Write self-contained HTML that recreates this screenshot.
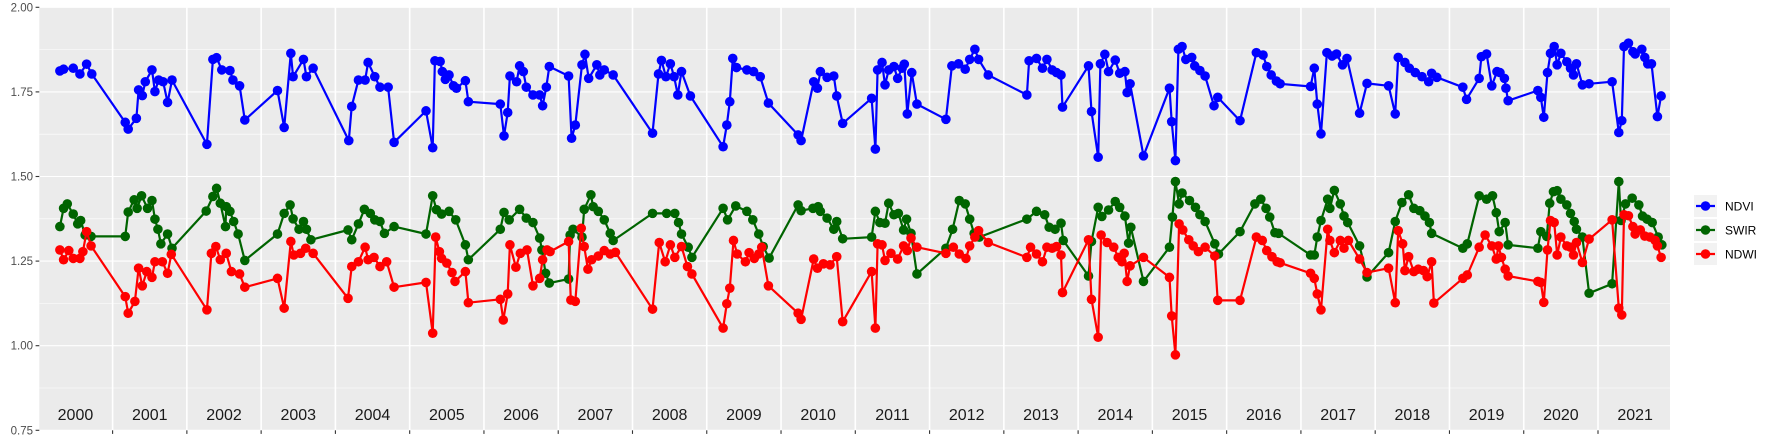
<!DOCTYPE html>
<html><head><meta charset="utf-8">
<style>
html,body{margin:0;padding:0;background:#fff;}
svg{display:block;font-family:"Liberation Sans",sans-serif;}
</style></head>
<body>
<svg id="chart" width="1773" height="442" viewBox="0 0 1773 442" xmlns="http://www.w3.org/2000/svg">
<rect x="39.3" y="7.3" width="1630.7" height="423" fill="#EBEBEB"/>
<g id="grid"></g>
<g id="yaxis"></g>
<g id="xaxis"></g>
<g id="years"></g>
<g id="series"></g>
<g id="legend"></g>
</svg>
<script>
const yTicks = [2.00, 1.75, 1.50, 1.25, 1.00, 0.75];
const yTickLabels = ["2.00", "1.75", "1.50", "1.25", "1.00", "0.75"];
const years = [2000,2001,2002,2003,2004,2005,2006,2007,2008,2009,2010,2011,2012,2013,2014,2015,2016,2017,2018,2019,2020,2021];
const seriesNames = ["NDVI", "SWIR", "NDWI"];
const seriesColors = ["#0000FF", "#006400", "#FF0000"];

const ndviT = [2000.29,2000.34,2000.47,2000.56,2000.65,2000.72,
2001.17,2001.21,2001.32,2001.35,2001.40,2001.44,2001.53,2001.57,2001.62,2001.68,2001.74,2001.80,
2002.27,2002.35,2002.40,2002.47,2002.58,2002.62,2002.71,2002.78,
2003.22,2003.31,2003.40,2003.43,2003.57,2003.61,2003.70,
2004.18,2004.22,2004.31,2004.40,2004.44,2004.53,2004.60,2004.71,2004.79,
2005.22,2005.31,2005.34,2005.41,2005.44,2005.48,2005.53,2005.59,2005.63,2005.75,2005.79,
2006.22,2006.27,2006.32,2006.35,2006.44,2006.48,2006.53,2006.57,2006.66,2006.75,2006.79,2006.84,2006.88,
2007.14,2007.18,2007.23,2007.32,2007.36,2007.41,2007.52,2007.56,2007.62,2007.74,
2008.27,2008.35,2008.39,2008.45,2008.51,2008.56,2008.61,2008.66,2008.78,
2009.22,2009.27,2009.31,2009.35,2009.40,2009.54,2009.63,2009.72,2009.83,
2010.23,2010.27,2010.44,2010.49,2010.53,2010.62,2010.71,2010.75,2010.83,
2011.22,2011.27,2011.30,2011.36,2011.40,2011.45,2011.52,2011.57,2011.63,2011.66,2011.70,2011.76,2011.83,
2012.22,2012.30,2012.39,2012.48,2012.54,2012.61,2012.66,2012.79,
2013.31,2013.34,2013.44,2013.52,2013.58,2013.65,2013.71,2013.77,2013.79,
2014.14,2014.18,2014.27,2014.30,2014.36,2014.41,2014.50,2014.56,2014.63,2014.66,2014.70,2014.88,
2015.23,2015.26,2015.31,2015.35,2015.40,2015.45,2015.53,2015.57,2015.64,2015.71,2015.83,2015.88,
2016.18,2016.40,2016.49,2016.54,2016.60,2016.67,2016.72,
2017.13,2017.18,2017.22,2017.27,2017.35,2017.42,2017.48,2017.56,2017.62,2017.79,2017.89,
2018.18,2018.27,2018.31,2018.40,2018.46,2018.54,2018.63,2018.72,2018.76,2018.83,
2019.18,2019.23,2019.40,2019.43,2019.50,2019.57,2019.64,2019.68,2019.74,2019.76,2019.79,
2020.19,2020.23,2020.27,2020.32,2020.36,2020.41,2020.45,2020.50,2020.58,2020.63,2020.67,2020.71,2020.79,2020.88,
2021.19,2021.28,2021.32,2021.35,2021.41,2021.47,2021.50,2021.59,2021.63,2021.67,2021.72,2021.80,2021.85];
const ndviV = [1.812,1.817,1.820,1.803,1.832,1.803,
1.660,1.640,1.672,1.756,1.739,1.780,1.815,1.751,1.785,1.780,1.719,1.785,
1.595,1.846,1.851,1.815,1.813,1.785,1.768,1.667,
1.754,1.645,1.864,1.795,1.846,1.795,1.820,
1.606,1.707,1.785,1.785,1.837,1.795,1.764,1.764,1.601,
1.694,1.585,1.842,1.840,1.810,1.787,1.800,1.768,1.761,1.783,1.721,
1.714,1.620,1.689,1.797,1.780,1.827,1.810,1.764,1.741,1.741,1.709,1.764,1.825,
1.797,1.613,1.652,1.830,1.861,1.790,1.830,1.800,1.815,1.800,
1.628,1.803,1.843,1.795,1.833,1.795,1.741,1.810,1.738,
1.588,1.652,1.721,1.849,1.822,1.815,1.810,1.795,1.717,
1.623,1.606,1.780,1.761,1.810,1.793,1.797,1.738,1.657,
1.731,1.581,1.815,1.837,1.771,1.815,1.825,1.790,1.820,1.832,1.685,1.807,1.714,
1.669,1.827,1.833,1.817,1.846,1.876,1.846,1.800,
1.741,1.842,1.849,1.820,1.846,1.815,1.807,1.800,1.705,
1.827,1.692,1.557,1.833,1.861,1.810,1.844,1.805,1.810,1.748,1.774,1.561,
1.761,1.662,1.547,1.876,1.884,1.846,1.852,1.827,1.813,1.797,1.709,1.734,
1.665,1.866,1.859,1.825,1.800,1.782,1.774,
1.766,1.820,1.714,1.626,1.866,1.856,1.862,1.830,1.849,1.687,1.775,
1.768,1.685,1.852,1.837,1.820,1.807,1.795,1.780,1.805,1.793,
1.764,1.728,1.790,1.854,1.862,1.768,1.810,1.807,1.790,1.761,1.724,
1.754,1.734,1.675,1.807,1.864,1.884,1.830,1.864,1.839,1.820,1.800,1.833,1.771,1.774,
1.780,1.630,1.665,1.884,1.894,1.869,1.862,1.876,1.852,1.833,1.833,1.677,1.738];

const swirT = [2000.29,2000.34,2000.39,2000.47,2000.53,2000.57,2000.63,2000.71,
2001.17,2001.21,2001.29,2001.33,2001.39,2001.47,2001.53,2001.57,2001.61,2001.65,2001.74,2001.80,
2002.26,2002.35,2002.40,2002.45,2002.52,2002.53,2002.58,2002.63,2002.69,2002.78,
2003.22,2003.31,2003.39,2003.43,2003.51,2003.57,2003.61,2003.67,
2004.17,2004.22,2004.31,2004.39,2004.47,2004.53,2004.60,2004.66,2004.79,
2005.22,2005.31,2005.36,2005.43,2005.53,2005.62,2005.75,2005.79,
2006.22,2006.27,2006.34,2006.48,2006.57,2006.66,2006.75,2006.78,2006.83,2006.88,
2007.14,2007.16,2007.20,2007.32,2007.35,2007.44,2007.47,2007.54,2007.62,2007.70,2007.74,
2008.27,2008.46,2008.57,2008.62,2008.66,2008.75,2008.80,
2009.22,2009.28,2009.39,2009.54,2009.62,2009.70,2009.76,2009.84,
2010.23,2010.27,2010.43,2010.50,2010.53,2010.62,2010.71,2010.75,2010.83,
2011.22,2011.27,2011.33,2011.40,2011.45,2011.52,2011.58,2011.65,2011.69,2011.75,2011.83,
2012.22,2012.31,2012.40,2012.48,2012.54,2012.60,2012.67,
2013.31,2013.44,2013.55,2013.61,2013.69,2013.77,2013.80,
2014.14,2014.18,2014.27,2014.32,2014.41,2014.50,2014.56,2014.63,2014.68,2014.71,2014.88,
2015.23,2015.27,2015.31,2015.36,2015.40,2015.50,2015.58,2015.64,2015.71,2015.84,2015.89,
2016.18,2016.38,2016.46,2016.53,2016.58,2016.65,2016.70,
2017.13,2017.18,2017.22,2017.27,2017.36,2017.39,2017.45,2017.53,2017.58,2017.63,2017.79,2017.89,
2018.18,2018.27,2018.36,2018.45,2018.52,2018.60,2018.67,2018.73,2018.76,
2019.18,2019.24,2019.40,2019.50,2019.58,2019.63,2019.67,2019.75,2019.79,
2020.19,2020.23,2020.31,2020.35,2020.40,2020.45,2020.50,2020.58,2020.63,2020.68,2020.71,2020.79,2020.88,
2021.19,2021.28,2021.31,2021.37,2021.46,2021.55,2021.60,2021.66,2021.73,2021.81,2021.86];
const swirV = [1.352,1.406,1.419,1.389,1.360,1.370,1.327,1.323,
1.323,1.395,1.431,1.406,1.443,1.406,1.429,1.374,1.344,1.301,1.330,1.288,
1.398,1.441,1.465,1.421,1.352,1.411,1.397,1.367,1.330,1.252,
1.330,1.391,1.416,1.375,1.344,1.367,1.344,1.313,
1.342,1.313,1.360,1.403,1.391,1.372,1.367,1.332,1.352,
1.330,1.443,1.402,1.389,1.397,1.372,1.298,1.254,
1.344,1.394,1.372,1.403,1.377,1.364,1.318,1.283,1.214,1.185,
1.197,1.327,1.344,1.321,1.403,1.446,1.411,1.397,1.372,1.332,1.311,
1.391,1.391,1.391,1.364,1.330,1.291,1.261,
1.406,1.372,1.413,1.397,1.372,1.330,1.293,1.259,
1.416,1.399,1.406,1.411,1.397,1.377,1.344,1.367,1.316,
1.321,1.397,1.364,1.362,1.421,1.387,1.391,1.342,1.374,1.332,1.212,
1.288,1.344,1.429,1.419,1.374,1.332,1.321,
1.374,1.397,1.387,1.350,1.344,1.362,1.311,
1.206,1.308,1.409,1.382,1.401,1.426,1.409,1.383,1.303,1.350,1.190,
1.291,1.380,1.485,1.419,1.451,1.429,1.409,1.387,1.367,1.301,1.271,
1.337,1.419,1.433,1.406,1.380,1.334,1.332,
1.268,1.268,1.321,1.370,1.433,1.406,1.459,1.419,1.383,1.364,1.295,1.203,
1.275,1.367,1.423,1.446,1.406,1.399,1.383,1.364,1.332,
1.288,1.301,1.443,1.433,1.443,1.393,1.337,1.364,1.298,
1.288,1.337,1.323,1.421,1.455,1.458,1.433,1.416,1.391,1.367,1.344,1.321,1.155,
1.183,1.485,1.370,1.419,1.436,1.416,1.383,1.374,1.364,1.321,1.298];

const ndwiT = [2000.29,2000.34,2000.41,2000.47,2000.56,2000.60,2000.65,2000.71,
2001.17,2001.21,2001.30,2001.35,2001.40,2001.46,2001.53,2001.57,2001.67,2001.74,2001.79,
2002.27,2002.33,2002.39,2002.45,2002.53,2002.60,2002.71,2002.78,
2003.22,2003.31,2003.40,2003.44,2003.53,2003.60,2003.70,
2004.17,2004.22,2004.31,2004.40,2004.44,2004.52,2004.60,2004.69,2004.79,
2005.22,2005.31,2005.35,2005.40,2005.43,2005.50,2005.57,2005.61,2005.75,2005.79,
2006.22,2006.26,2006.32,2006.35,2006.43,2006.49,2006.58,2006.66,2006.75,2006.79,2006.85,2006.89,
2007.14,2007.17,2007.23,2007.31,2007.35,2007.40,2007.45,2007.54,2007.62,2007.70,2007.77,
2008.27,2008.36,2008.44,2008.51,2008.57,2008.66,2008.74,2008.80,
2009.22,2009.27,2009.31,2009.36,2009.41,2009.52,2009.57,2009.64,2009.70,2009.74,2009.83,
2010.23,2010.27,2010.44,2010.49,2010.57,2010.66,2010.75,2010.83,
2011.22,2011.27,2011.30,2011.36,2011.40,2011.48,2011.57,2011.65,2011.70,2011.75,2011.83,
2012.22,2012.32,2012.40,2012.49,2012.54,2012.61,2012.66,2012.79,
2013.31,2013.36,2013.44,2013.52,2013.58,2013.65,2013.71,2013.77,2013.79,
2014.14,2014.18,2014.27,2014.31,2014.39,2014.48,2014.54,2014.59,2014.62,2014.66,2014.70,2014.88,
2015.23,2015.26,2015.31,2015.36,2015.41,2015.49,2015.55,2015.62,2015.71,2015.84,2015.88,
2016.18,2016.40,2016.48,2016.54,2016.61,2016.68,2016.72,
2017.13,2017.18,2017.22,2017.27,2017.36,2017.39,2017.45,2017.53,2017.58,2017.64,2017.79,2017.89,
2018.18,2018.27,2018.31,2018.37,2018.40,2018.45,2018.52,2018.58,2018.65,2018.70,2018.76,2018.79,
2019.18,2019.24,2019.40,2019.48,2019.57,2019.63,2019.66,2019.70,2019.75,2019.79,
2020.19,2020.23,2020.27,2020.32,2020.36,2020.41,2020.45,2020.50,2020.58,2020.63,2020.67,2020.71,2020.79,2020.88,
2021.19,2021.28,2021.32,2021.35,2021.41,2021.47,2021.50,2021.57,2021.63,2021.70,2021.77,2021.80,2021.85];
const ndwiV = [1.283,1.254,1.281,1.258,1.258,1.278,1.337,1.295,
1.145,1.096,1.131,1.229,1.177,1.219,1.202,1.248,1.248,1.214,1.270,
1.106,1.273,1.293,1.254,1.273,1.219,1.212,1.173,
1.199,1.111,1.308,1.268,1.273,1.288,1.273,
1.140,1.234,1.248,1.291,1.254,1.261,1.234,1.248,1.173,
1.187,1.037,1.321,1.278,1.258,1.244,1.216,1.190,1.219,1.127,
1.137,1.076,1.153,1.298,1.232,1.273,1.283,1.177,1.199,1.254,1.283,1.278,
1.308,1.135,1.131,1.347,1.293,1.226,1.254,1.265,1.281,1.271,1.276,
1.108,1.305,1.248,1.298,1.261,1.293,1.234,1.212,
1.052,1.124,1.170,1.311,1.271,1.248,1.275,1.258,1.271,1.291,1.177,
1.096,1.078,1.256,1.229,1.242,1.239,1.263,1.071,
1.219,1.052,1.301,1.298,1.252,1.273,1.256,1.295,1.281,1.318,1.291,
1.273,1.291,1.271,1.258,1.295,1.321,1.340,1.305,
1.261,1.291,1.271,1.248,1.291,1.288,1.293,1.268,1.157,
1.313,1.137,1.025,1.327,1.305,1.291,1.261,1.248,1.273,1.190,1.236,1.261,
1.202,1.088,0.973,1.360,1.342,1.313,1.295,1.278,1.291,1.265,1.134,
1.134,1.321,1.311,1.281,1.263,1.248,1.245,
1.214,1.199,1.153,1.106,1.344,1.311,1.275,1.311,1.288,1.311,1.256,1.216,
1.229,1.127,1.340,1.301,1.222,1.263,1.219,1.226,1.222,1.204,1.248,1.126,
1.199,1.209,1.291,1.327,1.295,1.256,1.295,1.261,1.226,1.206,
1.190,1.187,1.128,1.283,1.370,1.364,1.268,1.321,1.295,1.291,1.268,1.305,1.246,1.315,
1.372,1.111,1.091,1.387,1.384,1.352,1.330,1.342,1.324,1.321,1.311,1.295,1.261];

const NS = "http://www.w3.org/2000/svg";
const PX0 = 112.6, PXY = 74.27, PY0 = 7.3, PYU = 338.4;
const PL = 39.3, PR = 1670, PT = 7.3, PB = 430.3;
function xScale(t){ return PX0 + (t - 2001) * PXY; }
function yScale(v){ return PY0 + (2 - v) * PYU; }
function mk(tag, attrs, parent){
  const e = document.createElementNS(NS, tag);
  for (const k in attrs) e.setAttribute(k, attrs[k]);
  parent.appendChild(e);
  return e;
}
const grid = document.getElementById('grid');
const yaxis = document.getElementById('yaxis');
const xaxis = document.getElementById('xaxis');
const yearsG = document.getElementById('years');
const seriesG = document.getElementById('series');
const legend = document.getElementById('legend');

// minor horizontal gridlines
for (let i = 0; i < yTicks.length - 1; i++) {
  const v = (yTicks[i] + yTicks[i+1]) / 2;
  const l = mk('line', {x1: PL, x2: PR, y1: yScale(v), y2: yScale(v), stroke: '#fff', 'stroke-width': 0.55}, grid);
  
  
}
yTicks.forEach((v, i) => {
  const y = yScale(v);
  const l = mk('line', {x1: PL, x2: PR, y1: y, y2: y, stroke: '#fff', 'stroke-width': 1.1}, grid);
  
  
  const tk = mk('line', {x1: 35.6, x2: PL, y1: y, y2: y, stroke: '#333', 'stroke-width': 1.1}, yaxis);
  
  
  const tx = mk('text', {x: 33, y: y + 4, 'text-anchor': 'end', 'font-size': 11.5, fill: '#4D4D4D'}, yaxis);
  tx.textContent = yTickLabels[i];
  
  
});
years.forEach((yr, i) => {
  if (i > 0) {
    const x = xScale(yr);
    const l = mk('line', {x1: x, x2: x, y1: PT, y2: PB, stroke: '#fff', 'stroke-width': 1.6}, grid);
    
    
    const tk = mk('line', {x1: x, x2: x, y1: PB, y2: PB + 3.6, stroke: '#333', 'stroke-width': 1.1}, xaxis);
    
    
  }
  const tx = mk('text', {x: xScale(yr + 0.5), y: 420, 'text-anchor': 'middle', 'font-size': 16, fill: '#1A1A1A'}, yearsG);
  tx.textContent = String(yr);
  
  
});

const allT = [ndviT, swirT, ndwiT];
const allV = [ndviV, swirV, ndwiV];
allT.forEach((T, s) => {
  const V = allV[s];
  const idx = T.map((_, i) => i).sort((a, b) => T[a] - T[b]);
  const g = mk('g', {}, seriesG);
  
  
  const pts = idx.map(i => xScale(T[i]).toFixed(1) + ',' + yScale(V[i]).toFixed(1)).join(' ');
  const pl = mk('polyline', {points: pts, fill: 'none', stroke: seriesColors[s], 'stroke-width': 2.2, 'stroke-linejoin': 'round'}, g);
  
  
  idx.forEach(i => {
    const c = mk('circle', {cx: xScale(T[i]), cy: yScale(V[i]), r: 4.8, fill: seriesColors[s]}, g);
    
    
  });
});

seriesNames.forEach((nm, s) => {
  const cy = 206 + s * 24;
  const g = mk('g', {}, legend);
  
  
  mk('rect', {x: 1694, y: cy - 11, width: 23, height: 22, fill: '#F2F2F2'}, g);
  mk('line', {x1: 1696, x2: 1715, y1: cy, y2: cy, stroke: seriesColors[s], 'stroke-width': 2.2}, g);
  mk('circle', {cx: 1705.5, cy: cy, r: 4.8, fill: seriesColors[s]}, g);
  const t = mk('text', {x: 1725, y: cy + 4.3, 'font-size': 12, fill: '#000'}, g);
  t.textContent = nm;
  
  
});
</script>
</body></html>
